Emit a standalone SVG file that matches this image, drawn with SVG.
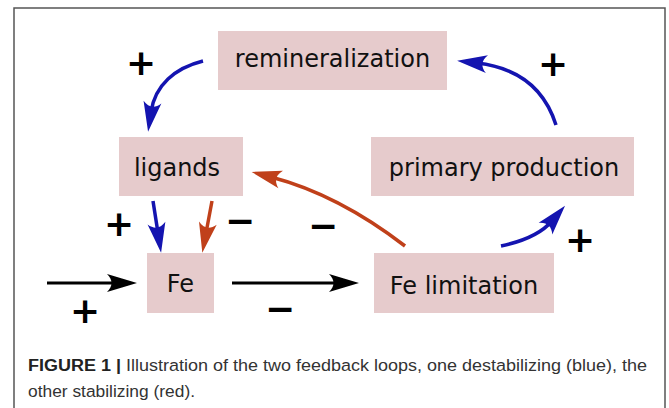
<svg xmlns="http://www.w3.org/2000/svg" width="669" height="408" viewBox="0 0 669 408">
<style>
.box{fill:#e6cbcc}
.lbl{font-family:"DejaVu Sans",sans-serif;font-size:24px;fill:#111;text-anchor:middle}
.sign{font-family:"DejaVu Sans",sans-serif;font-weight:bold;font-size:36px;fill:#000;text-anchor:middle}
.blue{fill:none;stroke:#1414b0;stroke-width:3.5}
.red{fill:none;stroke:#c0401a;stroke-width:3.5}
.black{fill:none;stroke:#000;stroke-width:3.2}
.cap{font-family:"Liberation Sans",Arial,sans-serif;font-size:17.4px;fill:#333}
</style>
<defs>
<marker id="hb" markerUnits="userSpaceOnUse" viewBox="-12 -10 34 20" refX="0" refY="0" markerWidth="34" markerHeight="20" orient="auto" overflow="visible"><path d="M20,0 L-10,-9 C-4,-3 -4,3 -10,9 Z" fill="#1414b0"/></marker>
<marker id="hr" markerUnits="userSpaceOnUse" viewBox="-12 -10 34 20" refX="0" refY="0" markerWidth="34" markerHeight="20" orient="auto" overflow="visible"><path d="M20,0 L-10,-9 C-4,-3 -4,3 -10,9 Z" fill="#c0401a"/></marker>
<marker id="hk" markerUnits="userSpaceOnUse" viewBox="-12 -10 34 20" refX="0" refY="0" markerWidth="34" markerHeight="20" orient="auto" overflow="visible"><path d="M20,0 L-10,-9 C-4,-3 -4,3 -10,9 Z" fill="#000"/></marker>
</defs>
<rect x="0" y="0" width="669" height="408" fill="#fff"/>
<rect x="14" y="8" width="651" height="420" fill="none" stroke="#555" stroke-width="1.5"/>

<g id="remineralization"><rect class="box" x="218" y="31" width="229" height="59"/><text class="lbl" x="332.5" y="67">remineralization</text></g>
<g id="ligands"><rect class="box" x="119" y="137" width="124" height="59"/><text class="lbl" x="177" y="176">ligands</text></g>
<g id="primary-production"><rect class="box" x="371" y="137" width="263" height="59"/><text class="lbl" x="504" y="176">primary production</text></g>
<g id="fe"><rect class="box" x="147" y="253" width="67" height="60"/><text class="lbl" x="180.5" y="292">Fe</text></g>
<g id="fe-limitation"><rect class="box" x="374" y="253" width="180" height="60"/><text class="lbl" x="464" y="294">Fe limitation</text></g>

<g id="connectors">
<path class="black" d="M47,283 L117,283" marker-end="url(#hk)"/>
<path class="black" d="M232,283 L339,283" marker-end="url(#hk)"/>
<path class="blue" d="M153,201 L158,233" marker-end="url(#hb)"/>
<path class="red" d="M212,201 L206,233" marker-end="url(#hr)"/>
<path class="red" d="M405,246 Q338,194.5 271,177" marker-end="url(#hr)"/>
<path class="blue" d="M203,61 C175,68 155,85 151,112" marker-end="url(#hb)"/>
<path class="blue" d="M556,125 C545,90 520,68 477,63" marker-end="url(#hb)"/>
<path class="blue" d="M501,246 C520,242 540,235 552,221" marker-end="url(#hb)"/>
</g>

<g id="signs">
<text class="sign" x="141" y="75">+</text>
<text class="sign" x="553" y="76">+</text>
<text class="sign" x="119" y="236">+</text>
<text class="sign" x="580" y="252">+</text>
<text class="sign" x="85" y="323">+</text>
<text class="sign" x="240" y="233">−</text>
<text class="sign" x="323" y="238">−</text>
<text class="sign" x="280" y="321">−</text>
</g>

<g id="caption">
<text class="cap" x="28" y="371" textLength="619" lengthAdjust="spacingAndGlyphs"><tspan font-weight="bold" fill="#222">FIGURE 1 |</tspan> Illustration of the two feedback loops, one destabilizing (blue), the</text>
<text class="cap" x="28" y="397" textLength="167" lengthAdjust="spacingAndGlyphs">other stabilizing (red).</text>
</g>
</svg>
